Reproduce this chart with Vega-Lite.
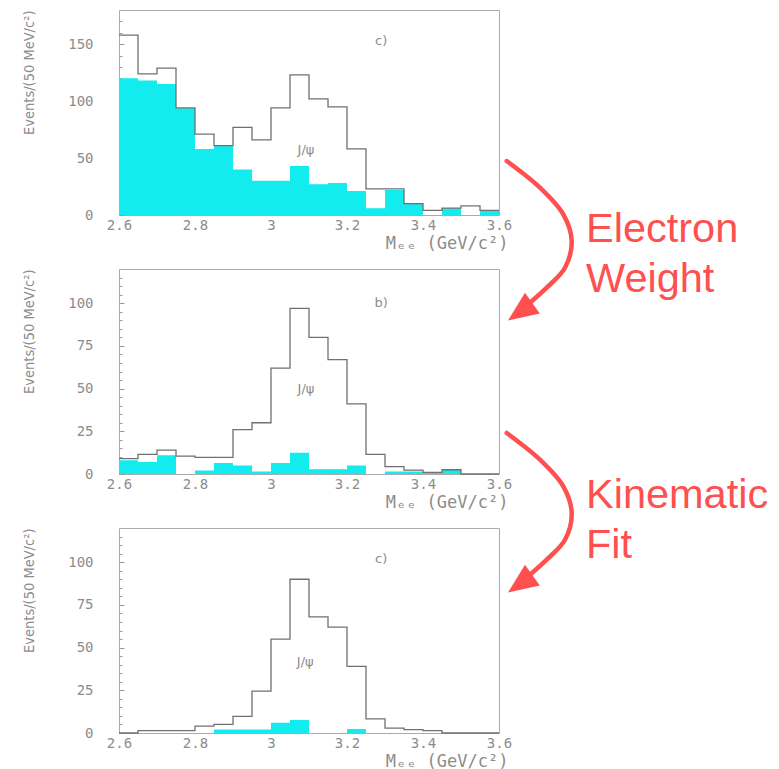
{
  "$schema": "https://vega.github.io/schema/vega-lite/v6.json",
  "background": "white",
  "padding": {"left": 20, "top": 9, "right": 0, "bottom": 0},
  "config": {
    "view": {"stroke": "#aaaaaa", "strokeWidth": 1},
    "axis": {"domain": false, "grid": false, "labelColor": "#8c8c8c", "labelFont": "DejaVu Sans Mono", "labelFontSize": 14, "titleColor": "#8c8c8c", "titleFontWeight": "normal", "tickColor": "#9a9a9a", "labelFlush": false}
  },
  "datasets": {
    "hist": [
      {"p":"a","m":2.6,"all":158,"sel":120},{"p":"a","m":2.65,"all":124,"sel":118},{"p":"a","m":2.7,"all":129,"sel":115},{"p":"a","m":2.75,"all":94,"sel":94},
      {"p":"a","m":2.8,"all":71,"sel":58},{"p":"a","m":2.85,"all":61,"sel":61},{"p":"a","m":2.9,"all":77,"sel":40},{"p":"a","m":2.95,"all":66,"sel":30},
      {"p":"a","m":3.0,"all":94,"sel":30},{"p":"a","m":3.05,"all":123,"sel":43},{"p":"a","m":3.1,"all":102,"sel":27},{"p":"a","m":3.15,"all":95,"sel":28},
      {"p":"a","m":3.2,"all":58,"sel":21},{"p":"a","m":3.25,"all":23,"sel":6},{"p":"a","m":3.3,"all":23,"sel":22},{"p":"a","m":3.35,"all":10,"sel":10},
      {"p":"a","m":3.4,"all":4,"sel":0},{"p":"a","m":3.45,"all":6,"sel":6},{"p":"a","m":3.5,"all":8,"sel":0},{"p":"a","m":3.55,"all":4,"sel":4},{"p":"a","m":3.6,"all":4,"sel":4},
      {"p":"b","m":2.6,"all":9,"sel":8},{"p":"b","m":2.65,"all":11.5,"sel":7},{"p":"b","m":2.7,"all":14,"sel":11},{"p":"b","m":2.75,"all":10.5,"sel":0},
      {"p":"b","m":2.8,"all":9.7,"sel":2},{"p":"b","m":2.85,"all":9.7,"sel":6.5},{"p":"b","m":2.9,"all":26,"sel":5},{"p":"b","m":2.95,"all":30,"sel":1.5},
      {"p":"b","m":3.0,"all":62,"sel":6.5},{"p":"b","m":3.05,"all":97,"sel":12.5},{"p":"b","m":3.1,"all":80,"sel":2.8},{"p":"b","m":3.15,"all":67,"sel":2.8},
      {"p":"b","m":3.2,"all":41,"sel":5},{"p":"b","m":3.25,"all":11.5,"sel":0},{"p":"b","m":3.3,"all":4.3,"sel":1.4},{"p":"b","m":3.35,"all":2.3,"sel":1.5},
      {"p":"b","m":3.4,"all":1,"sel":1},{"p":"b","m":3.45,"all":2.5,"sel":2.5},{"p":"b","m":3.5,"all":0,"sel":0},{"p":"b","m":3.55,"all":0,"sel":0},{"p":"b","m":3.6,"all":0,"sel":0},
      {"p":"c","m":2.6,"all":0,"sel":0},{"p":"c","m":2.65,"all":1.4,"sel":0},{"p":"c","m":2.7,"all":1.4,"sel":0},{"p":"c","m":2.75,"all":1.4,"sel":0},
      {"p":"c","m":2.8,"all":4,"sel":0},{"p":"c","m":2.85,"all":5,"sel":2},{"p":"c","m":2.9,"all":9.7,"sel":2},{"p":"c","m":2.95,"all":24.5,"sel":2},
      {"p":"c","m":3.0,"all":55,"sel":6},{"p":"c","m":3.05,"all":90,"sel":7.6},{"p":"c","m":3.1,"all":68,"sel":0},{"p":"c","m":3.15,"all":62,"sel":0},
      {"p":"c","m":3.2,"all":39,"sel":2.3},{"p":"c","m":3.25,"all":8.3,"sel":0},{"p":"c","m":3.3,"all":2.9,"sel":0},{"p":"c","m":3.35,"all":2,"sel":0},
      {"p":"c","m":3.4,"all":1.4,"sel":0},{"p":"c","m":3.45,"all":0,"sel":0},{"p":"c","m":3.5,"all":0,"sel":0},{"p":"c","m":3.55,"all":0,"sel":0},{"p":"c","m":3.6,"all":0,"sel":0}
    ],
    "notes": [
      {"p":"a","x":3.29,"y":153,"t":"c)"},{"p":"a","x":3.092,"y":57,"t":"J/ψ"},
      {"p":"b","x":3.29,"y":100,"t":"b)"},{"p":"b","x":3.092,"y":50,"t":"J/ψ"},
      {"p":"c","x":3.29,"y":102,"t":"c)"},{"p":"c","x":3.09,"y":41.5,"t":"J/ψ"}
    ],
    "shafts": [
      {"arrow":1,"i":0,"ax":102.03,"ay":26.34},{"arrow":1,"i":1,"ax":110.79,"ay":13.32},{"arrow":1,"i":2,"ax":116.92,"ay":0.34},{"arrow":1,"i":3,"ax":119.13,"ay":-12.68},
      {"arrow":1,"i":4,"ax":117.37,"ay":-25.71},{"arrow":1,"i":5,"ax":112.55,"ay":-35.46},{"arrow":1,"i":6,"ax":108.16,"ay":-42.78},
      {"arrow":2,"i":0,"ax":102.03,"ay":-106.34},{"arrow":2,"i":1,"ax":110.79,"ay":-119.36},{"arrow":2,"i":2,"ax":116.92,"ay":-132.34},{"arrow":2,"i":3,"ax":119.13,"ay":-145.36},
      {"arrow":2,"i":4,"ax":117.37,"ay":-158.39},{"arrow":2,"i":5,"ax":112.55,"ay":-168.14},{"arrow":2,"i":6,"ax":108.16,"ay":-175.46}
    ],
    "heads": [
      {"arrow":1,"ax":105.58,"ay":-47.22},{"arrow":2,"ax":105.58,"ay":-179.9}
    ],
    "words": [
      {"t":"Electron","ax":122.89,"ay":-13.02},{"t":"Weight","ax":122.89,"ay":-37.41},
      {"t":"Kinematic","ax":122.89,"ay":-142.78},{"t":"Fit","ax":122.89,"ay":-167.46}
    ]
  },
  "bounds": "flush",
  "spacing": 54,
  "vconcat": [
    {
      "width": 380, "height": 205,
      "resolve": {"scale": {"x": "independent", "y": "independent"}, "axis": {"x": "independent", "y": "independent"}},
      "layer": [
        {
          "resolve": {"axis": {"y": "independent"}},
          "layer": [
            {
              "data": {"name": "hist"},
              "transform": [{"filter": "datum.p === 'a'"}],
              "mark": {"type": "area", "interpolate": "step-after", "color": "#12ecef", "opacity": 1},
              "encoding": {
                "x": {"field": "m", "type": "quantitative", "scale": {"domain": [2.6, 3.6], "nice": false, "zero": false},
                  "axis": {"values": [2.6, 2.8, 3.0, 3.2, 3.4, 3.6], "format": "~g", "ticks": false, "labelPadding": 3, "labelOverlap": false, "title": "Mₑₑ (GeV/c²)", "titleX": 389, "titleAlign": "right", "titleFont": "DejaVu Sans Mono", "titleFontSize": 17, "titlePadding": 3}},
                "y": {"field": "sel", "type": "quantitative", "scale": {"domain": [0, 180], "nice": false},
                  "axis": {"orient": "left", "values": [0,10,20,30,40,50,60,70,80,90,100,110,120,130,140,150,160,170], "labels": false, "tickSize": -3, "title": null}}
              }
            },
            {
              "data": {"name": "hist"},
              "transform": [{"filter": "datum.p === 'a'"}],
              "mark": {"type": "line", "interpolate": "step-after", "color": "#707070", "strokeWidth": 1.3},
              "encoding": {
                "x": {"field": "m", "type": "quantitative"},
                "y": {"field": "all", "type": "quantitative",
                  "axis": {"orient": "left", "values": [0, 50, 100, 150], "labelOverlap": false, "tickSize": -5, "labelPadding": 31, "title": "Events/(50 MeV/c²)", "titleFont": "DejaVu Sans Condensed, sans-serif", "titleFontSize": 14.5, "titleAnchor": "end", "titleX": -86, "titleBaseline": "alphabetic"}}
              }
            },
            {
              "data": {"name": "notes"},
              "transform": [{"filter": "datum.p === 'a'"}],
              "mark": {"type": "text", "font": "DejaVu Sans", "fontSize": 13, "color": "#8c8c8c"},
              "encoding": {
                "x": {"field": "x", "type": "quantitative"},
                "y": {"field": "y", "type": "quantitative", "axis": null},
                "text": {"field": "t"}
              }
            }
          ]
        },
        {
          "layer": [
            {
              "data": {"name": "shafts"},
              "mark": {"type": "line", "interpolate": "catmull-rom", "color": "#ff5050", "strokeWidth": 4.5, "strokeCap": "round", "clip": false},
              "encoding": {
                "x": {"field": "ax", "type": "quantitative", "scale": {"domain": [0, 100], "nice": false, "zero": false}, "axis": null},
                "y": {"field": "ay", "type": "quantitative", "scale": {"domain": [0, 100], "nice": false, "zero": false}, "axis": null},
                "detail": {"field": "arrow"},
                "order": {"field": "i"}
              }
            },
            {
              "data": {"name": "heads"},
              "mark": {"type": "point", "shape": "M0,-1L0.85,1L-0.85,1Z", "filled": true, "size": 900, "angle": 234.4, "color": "#ff5050", "opacity": 1, "strokeWidth": 0},
              "encoding": {
                "x": {"field": "ax", "type": "quantitative"},
                "y": {"field": "ay", "type": "quantitative"}
              }
            },
            {
              "data": {"name": "words"},
              "mark": {"type": "text", "font": "Liberation Sans", "fontSize": 41.5, "color": "#ff5050", "align": "left", "baseline": "alphabetic"},
              "encoding": {
                "x": {"field": "ax", "type": "quantitative"},
                "y": {"field": "ay", "type": "quantitative"},
                "text": {"field": "t"}
              }
            }
          ]
        }
      ]
    },
    {
      "width": 380, "height": 205,
      "resolve": {"axis": {"y": "independent"}},
      "layer": [
        {
          "data": {"name": "hist"},
          "transform": [{"filter": "datum.p === 'b'"}],
          "mark": {"type": "area", "interpolate": "step-after", "color": "#12ecef", "opacity": 1},
          "encoding": {
            "x": {"field": "m", "type": "quantitative", "scale": {"domain": [2.6, 3.6], "nice": false, "zero": false},
              "axis": {"values": [2.6, 2.8, 3.0, 3.2, 3.4, 3.6], "format": "~g", "ticks": false, "labelPadding": 3, "labelOverlap": false, "title": "Mₑₑ (GeV/c²)", "titleX": 389, "titleAlign": "right", "titleFont": "DejaVu Sans Mono", "titleFontSize": 17, "titlePadding": 3}},
            "y": {"field": "sel", "type": "quantitative", "scale": {"domain": [0, 120], "nice": false},
              "axis": {"orient": "left", "values": [0,5,10,15,20,25,30,35,40,45,50,55,60,65,70,75,80,85,90,95,100,105,110,115], "labels": false, "tickSize": -3, "title": null}}
          }
        },
        {
          "data": {"name": "hist"},
          "transform": [{"filter": "datum.p === 'b'"}],
          "mark": {"type": "line", "interpolate": "step-after", "color": "#707070", "strokeWidth": 1.3},
          "encoding": {
            "x": {"field": "m", "type": "quantitative"},
            "y": {"field": "all", "type": "quantitative",
              "axis": {"orient": "left", "values": [0, 25, 50, 75, 100], "labelOverlap": false, "tickSize": -5, "labelPadding": 31, "title": "Events/(50 MeV/c²)", "titleFont": "DejaVu Sans Condensed, sans-serif", "titleFontSize": 14.5, "titleAnchor": "end", "titleX": -86, "titleBaseline": "alphabetic"}}
          }
        },
        {
          "data": {"name": "notes"},
          "transform": [{"filter": "datum.p === 'b'"}],
          "mark": {"type": "text", "font": "DejaVu Sans", "fontSize": 13, "color": "#8c8c8c"},
          "encoding": {
            "x": {"field": "x", "type": "quantitative"},
            "y": {"field": "y", "type": "quantitative", "axis": null},
            "text": {"field": "t"}
          }
        }
      ]
    },
    {
      "width": 380, "height": 205,
      "resolve": {"axis": {"y": "independent"}},
      "layer": [
        {
          "data": {"name": "hist"},
          "transform": [{"filter": "datum.p === 'c'"}],
          "mark": {"type": "area", "interpolate": "step-after", "color": "#12ecef", "opacity": 1},
          "encoding": {
            "x": {"field": "m", "type": "quantitative", "scale": {"domain": [2.6, 3.6], "nice": false, "zero": false},
              "axis": {"values": [2.6, 2.8, 3.0, 3.2, 3.4, 3.6], "format": "~g", "ticks": false, "labelPadding": 3, "labelOverlap": false, "title": "Mₑₑ (GeV/c²)", "titleX": 389, "titleAlign": "right", "titleFont": "DejaVu Sans Mono", "titleFontSize": 17, "titlePadding": 3}},
            "y": {"field": "sel", "type": "quantitative", "scale": {"domain": [0, 120], "nice": false},
              "axis": {"orient": "left", "values": [0,5,10,15,20,25,30,35,40,45,50,55,60,65,70,75,80,85,90,95,100,105,110,115], "labels": false, "tickSize": -3, "title": null}}
          }
        },
        {
          "data": {"name": "hist"},
          "transform": [{"filter": "datum.p === 'c'"}],
          "mark": {"type": "line", "interpolate": "step-after", "color": "#707070", "strokeWidth": 1.3},
          "encoding": {
            "x": {"field": "m", "type": "quantitative"},
            "y": {"field": "all", "type": "quantitative",
              "axis": {"orient": "left", "values": [0, 25, 50, 75, 100], "labelOverlap": false, "tickSize": -5, "labelPadding": 31, "title": "Events/(50 MeV/c²)", "titleFont": "DejaVu Sans Condensed, sans-serif", "titleFontSize": 14.5, "titleAnchor": "end", "titleX": -86, "titleBaseline": "alphabetic"}}
          }
        },
        {
          "data": {"name": "notes"},
          "transform": [{"filter": "datum.p === 'c'"}],
          "mark": {"type": "text", "font": "DejaVu Sans", "fontSize": 13, "color": "#8c8c8c"},
          "encoding": {
            "x": {"field": "x", "type": "quantitative"},
            "y": {"field": "y", "type": "quantitative", "axis": null},
            "text": {"field": "t"}
          }
        }
      ]
    }
  ]
}
